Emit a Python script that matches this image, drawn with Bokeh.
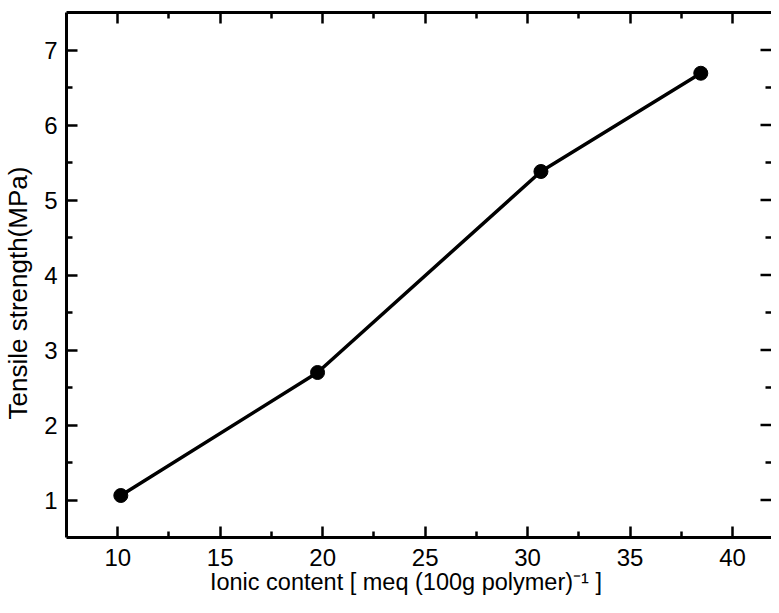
import math
from bokeh.plotting import figure
from bokeh.models import LinearAxis, FixedTicker, Range1d, CustomLabelingPolicy
from bokeh.embed import file_html
from bokeh.resources import INLINE

# Data
ionic_content = [10.15, 19.75, 30.65, 38.45]
tensile_strength = [1.06, 2.70, 5.38, 6.69]

x_major = [10, 15, 20, 25, 30, 35, 40]
x_minor = [12.5, 17.5, 22.5, 27.5, 32.5, 37.5]
y_major = [1, 2, 3, 4, 5, 6, 7]
y_minor = [1.5, 2.5, 3.5, 4.5, 5.5, 6.5]

X_START, X_END = 7.5, 41.9
Y_START, Y_END = 0.5, 7.5

NB = "\u00a0"
x_label = "Ionic content [ meq (100g polymer)\u207b\u00b9 ]" + NB * 4
y_label = "Tensile strength(MPa)" + NB * 5

FONT = "Liberation Sans"

p = figure(width=771, height=597, output_backend="svg", toolbar_location=None,
           x_range=Range1d(X_START, X_END), y_range=Range1d(Y_START, Y_END),
           x_axis_label=x_label, y_axis_label=y_label,
           min_border_left=0, min_border_right=0, min_border_top=12,
           min_border_bottom=0)
p.grid.visible = False
p.outline_line_color = None
p.background_fill_color = "white"
p.border_fill_color = "white"

no_labels = CustomLabelingPolicy(code="""
    for (const i of Array.from(indices)) indices.unset(i)
    return indices
""")


def style(ax, ticker, labels=True):
    ax.ticker = ticker
    ax.axis_line_width = 3
    ax.axis_line_color = "black"
    ax.major_tick_line_width = 2.5
    ax.minor_tick_line_width = 2.5
    ax.major_tick_line_color = "black"
    ax.minor_tick_line_color = "black"
    ax.major_tick_in = 11
    ax.major_tick_out = 0
    ax.minor_tick_in = 6
    ax.minor_tick_out = 0
    if labels:
        ax.major_label_text_font = FONT
        ax.major_label_text_font_size = "24px"
        ax.major_label_text_color = "black"
    else:
        ax.major_label_text_font_size = "1px"
        ax.major_label_standoff = 0
        ax.major_label_policy = no_labels


xt = FixedTicker(ticks=x_major, minor_ticks=x_minor)
yt = FixedTicker(ticks=y_major, minor_ticks=y_minor)

style(p.xaxis[0], xt)
style(p.yaxis[0], yt)
p.xaxis[0].major_label_standoff = 11
p.yaxis[0].major_label_standoff = 9
for ax in (p.xaxis[0], p.yaxis[0]):
    ax.axis_label_text_font = FONT
    ax.axis_label_text_font_style = "normal"
    ax.axis_label_text_color = "black"
p.xaxis[0].axis_label_text_font_size = "23.5px"
p.xaxis[0].axis_label_standoff = 0
p.yaxis[0].axis_label_text_font_size = "26px"
p.yaxis[0].axis_label_standoff = 8

top = LinearAxis()
style(top, xt, labels=False)
p.add_layout(top, "above")

# inward ticks of the right-hand frame edge (the edge line itself lies beyond the crop)
p.ray(x=[X_END] * len(y_major), y=y_major, length=11, length_units="screen",
      angle=math.pi, line_width=2.5, color="black")
p.ray(x=[X_END] * len(y_minor), y=y_minor, length=6, length_units="screen",
      angle=math.pi, line_width=2.5, color="black")

p.line(ionic_content, tensile_strength, line_width=3.5, color="black")
p.scatter(ionic_content, tensile_strength, size=14, color="black")

open("out.html", "w").write(file_html(p, INLINE))
